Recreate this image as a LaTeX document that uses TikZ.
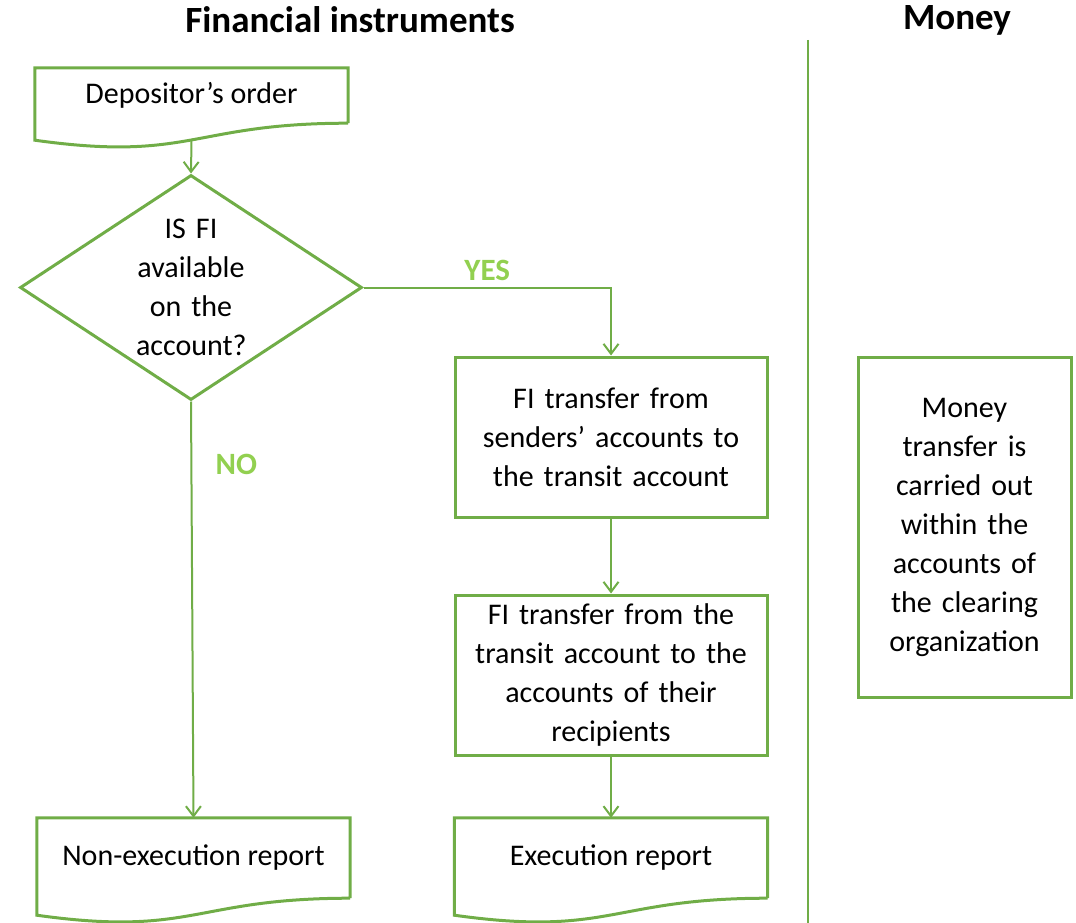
\documentclass[tikz,border=0pt]{standalone}
\usepackage{fontspec}
\setmainfont{Carlito}
\usetikzlibrary{shapes.geometric,arrows.meta}
\definecolor{frame}{HTML}{70AD47}
\definecolor{answer}{HTML}{92D050}
\begin{document}
\begin{tikzpicture}[>={Straight Barb[length=10pt,width=15pt]},x=1pt,y=-1pt,font=\fontsize{30}{39}\selectfont]
      \tikzset{box/.style={draw=frame, line width=3pt, minimum width=312pt, minimum height=160pt, text width=290pt, align=center},
        doc/.style={minimum width=313pt, inner sep=0pt, align=center},
        decision/.style={diamond, draw=frame, line width=3pt, aspect=1.52, inner sep=0pt, text width=110pt, align=center, minimum width=342pt, minimum height=225pt},
        link/.style={draw=frame, line width=2pt, ->},
        title/.style={font=\fontsize{37}{42}\selectfont\bfseries},
        answer/.style={text=answer, font=\fontsize{31}{34}\selectfont\bfseries}}
      \useasboundingbox (0,0) rectangle (1076,923);
      \node[title] (fin) at (350,20) {Financial instruments};
      \node[title] (money) at (957,20) {Money};
      \draw[frame, line width=2pt] (808,40) -- (808,923);
      \node[doc, minimum height=55pt] (order) at (191.5,95.5) {Depositor’s order};
      \node[decision] (ask) at (191,287.5) {IS FI\\available\\on the\\account?};
      \node[box] (move) at (611,437) {FI transfer from\\senders’ accounts to\\the transit account};
      \node[box] (split) at (611,675) {FI transfer from the\\transit account to the\\accounts of their\\recipients};
      \node[doc, minimum height=80pt] (fail) at (193.5,858) {Non-execution report};
      \node[doc, minimum height=80pt] (done) at (611,858) {Execution report};
      \node[box, minimum width=213pt, minimum height=340pt, text width=190pt] (cash) at (964.5,527)
        {Money\\transfer is\\carried out\\within the\\accounts of\\the clearing\\organization};
      \foreach \n in {order,fail,done}
        \draw[frame, line width=3pt] (\n.south east) -- (\n.north east) -- (\n.north west) -- ([yshift=-17pt]\n.south west)
          .. controls ([yshift=-39pt]\n.south) and (\n.south) .. (\n.south east);
      \draw[link] ([yshift=-17pt]order.south) -- (ask.north);
      \draw[link] (ask.east) -| (move.north) node[answer, pos=0.25, above=2pt] {YES};
      \draw[link] (ask.south) -- (fail.north) node[answer, pos=0.15, right=20pt] {NO};
      \draw[link] (move) -- (split);
      \draw[link] (split) -- (done);
    \end{tikzpicture}
\end{document}
